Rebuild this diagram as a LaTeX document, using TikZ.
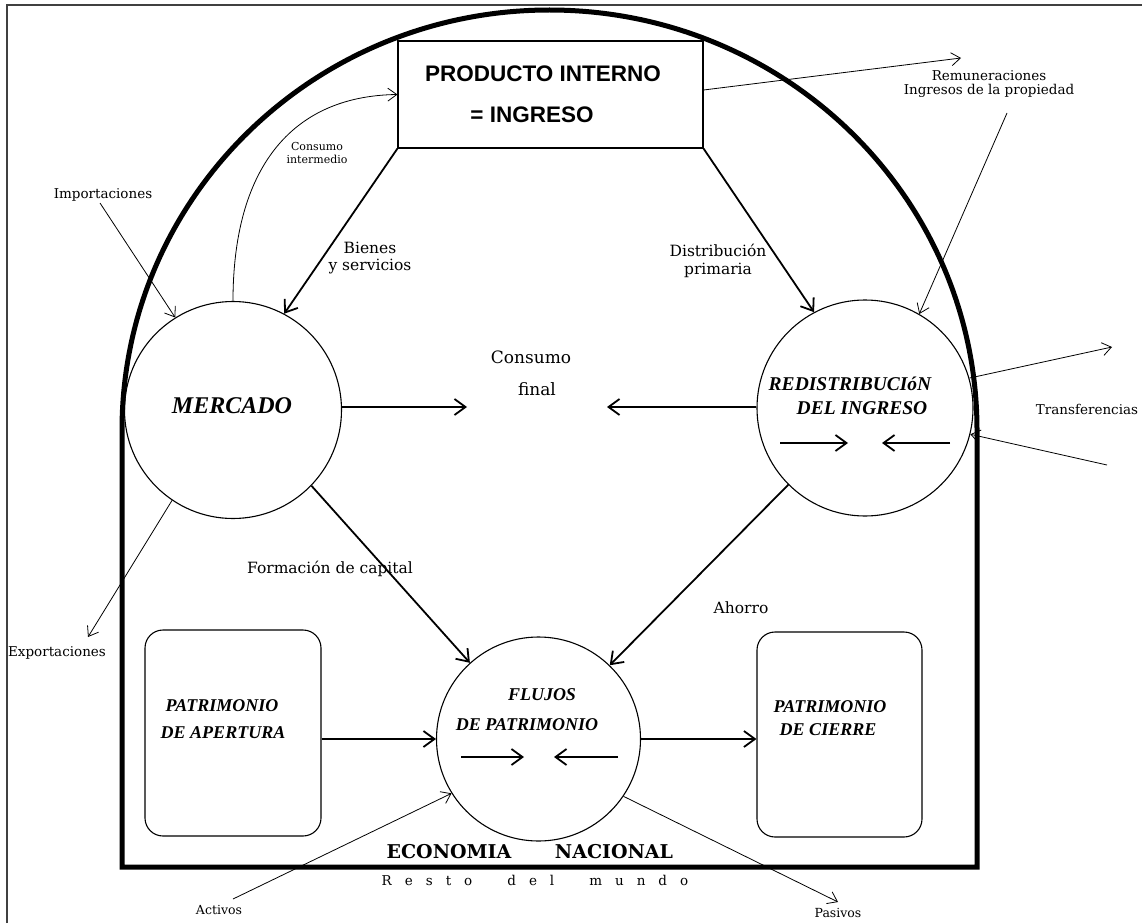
\documentclass[tikz,border=0pt]{standalone}
\usepackage{fontspec}
\setmainfont{DejaVu Serif}
\newfontfamily\calfont{Liberation Serif}
\newfontfamily\arialfont{Liberation Sans}
\usetikzlibrary{arrows.meta}
\newcommand{\lsp}{\hspace{13pt}}
\newcommand{\wsp}{\hspace{35pt}}
\begin{document}
\begin{tikzpicture}[x=1pt,y=-1pt,
  lbl/.style={font=\fontsize{13.5}{14.5}\selectfont,inner sep=0,align=center},
  mlbl/.style={font=\fontsize{15.5}{17.5}\selectfont,inner sep=0,align=center},
  slbl/.style={font=\fontsize{12.5}{14}\selectfont,inner sep=0,align=center},
  cal/.style={font=\calfont\bfseries\itshape\fontsize{#1}{#1}\selectfont,inner sep=0},
  pibtxt/.style={font=\arialfont\bfseries\fontsize{22.5}{22.5}\selectfont,inner sep=0},
  circ/.style={circle,draw,line width=1.1pt,minimum size=#1,inner sep=0},
  rbox/.style={draw,line width=1.1pt,rounded corners=18pt,inner sep=0},
  bigarr/.style={line width=1.8pt,-{Straight Barb[length=11pt,width=16pt]}},
  thinarr/.style={line width=0.8pt,-{Straight Barb[length=9pt,width=13pt]}},
]
\useasboundingbox (0,0) rectangle (1142,923);
% outer frame
\draw[line width=1.2pt,black!75] (7,923) -- (7,5) -- (1142,5);
% national economy arch
\draw[line width=5pt] (122,867) -- (122,430) arc[start angle=180,end angle=0,x radius=427.5pt,y radius=420pt] -- (977,867) -- cycle;
% product box
\node[draw,fill=white,line width=1.1pt,minimum width=305pt,minimum height=107pt,inner sep=0] (pib) at (550.5,94.5) {};
\node[pibtxt] (pib1) at (543,74) {PRODUCTO INTERNO};
\node[pibtxt] (pib2) at (532,115) {= INGRESO};
% circles
\node[circ=217pt] (merc) at (233,410) {};
\node[circ=216pt] (redis) at (865,408) {};
\node[circ=204pt] (flujos) at (538.5,739) {};
\node[cal=24] (mtxt) at (232,406) {MERCADO};
\node[cal=19.5] (rtxt1) at (850,384) {REDISTRIBUCIóN};
\node[cal=19.5] (rtxt2) at (862,408) {DEL INGRESO};
\node[cal=18] (ftxt1) at (542,695) {FLUJOS};
\node[cal=18] (ftxt2) at (527,725) {DE PATRIMONIO};
% boxes
\node[rbox,minimum width=176pt,minimum height=206pt] (aper) at (233,733) {};
\node[cal=18] (atxt1) at (222,706) {PATRIMONIO};
\node[cal=18] (atxt2) at (223,733) {DE APERTURA};
\node[rbox,minimum width=165pt,minimum height=205pt] (cierre) at (839.5,734.5) {};
\node[cal=18] (ctxt1) at (830,707) {PATRIMONIO};
\node[cal=18] (ctxt2) at (828,730) {DE CIERRE};
% consumo final
\node[font=\fontsize{17}{17}\selectfont,inner sep=0] (cons) at (531,357) {Consumo};
\node[font=\fontsize{17}{17}\selectfont,inner sep=0] (fin) at (537,389) {final};
\coordinate (cfl) at (467,407);
\coordinate (cfr) at (607,407);
% thick flows
\draw[bigarr] (merc.east |- cfl) -- (cfl);
\draw[bigarr] (redis.west |- cfr) -- (cfr);
\draw[bigarr] (pib.south west) -- (merc.62);
\draw[bigarr] (pib.south east) -- (redis.118);
\draw[bigarr] (merc.-44) -- (flujos.132);
\draw[bigarr] (redis.-135) -- (flujos.46);
\draw[bigarr] (aper.east |- flujos.west) -- (flujos.west);
\draw[bigarr] (flujos.east) -- (cierre.west |- flujos.east);
% internal arrows
\coordinate (r1a) at (780,443); \coordinate (r1b) at (848,443);
\coordinate (r2a) at (950,443); \coordinate (r2b) at (882,443);
\coordinate (f1a) at (461,757); \coordinate (f1b) at (524,757);
\coordinate (f2a) at (618,757); \coordinate (f2b) at (554,757);
\draw[bigarr] (r1a) -- (r1b);
\draw[bigarr] (r2a) -- (r2b);
\draw[bigarr] (f1a) -- (f1b);
\draw[bigarr] (f2a) -- (f2b);
% thin flows
\draw[thinarr] (merc.north) .. controls (233,170) and (290,96) .. (pib.west);
\coordinate (remend) at (961,58);
\draw[thinarr] ([yshift=4.5pt]pib.east) -- (remend);
\coordinate (ingst) at (1007,113);
\draw[thinarr] (ingst) -- (redis.60);
\coordinate (trout) at (1112,347);
\draw[thinarr] (redis.16) -- (trout);
\coordinate (trin) at (1107,465);
\draw[thinarr] (trin) -- (redis.-14);
\coordinate (impst) at (100,203);
\draw[thinarr] (impst) -- (merc.122);
\coordinate (expend) at (88,637);
\draw[thinarr] (merc.236) -- (expend);
\coordinate (actst) at (233,899);
\draw[thinarr] (actst) -- (flujos.212);
\coordinate (pasend) at (838,902);
\draw[thinarr] (flujos.-34) -- (pasend);
% labels
\node[font=\fontsize{11}{12.5}\selectfont,inner sep=0,align=center] (cint) at (317,153) {Consumo\\intermedio};
\node[mlbl] (bienes) at (370,258) {Bienes\\y servicios};
\node[mlbl] (distr) at (718,261) {Distribución\\primaria};
\node[lbl] (remu) at (989,84) {Remuneraciones\\Ingresos de la propiedad};
\node[lbl] (imp) at (103,195) {Importaciones};
\node[lbl] (trans) at (1087,409) {Transferencias};
\node[lbl] (exp) at (57,653) {Exportaciones};
\node[mlbl] (form) at (330,569) {Formación de capital};
\node[mlbl] (ahorro) at (741,608) {Ahorro};
\node[slbl] (act) at (219,910) {Activos};
\node[slbl] (pas) at (838,913) {Pasivos};
\node[font=\bfseries\fontsize{19}{19}\selectfont,inner sep=0] (eco) at (449,852) {ECONOMIA};
\node[font=\bfseries\fontsize{19}{19}\selectfont,inner sep=0] (nac) at (614,852) {NACIONAL};
\node[lbl] (resto) at (535,880) {R\lsp e\lsp s\lsp t\lsp o\wsp d\lsp e\lsp l\wsp m\lsp u\lsp n\lsp d\lsp o};
\end{tikzpicture}
\end{document}
